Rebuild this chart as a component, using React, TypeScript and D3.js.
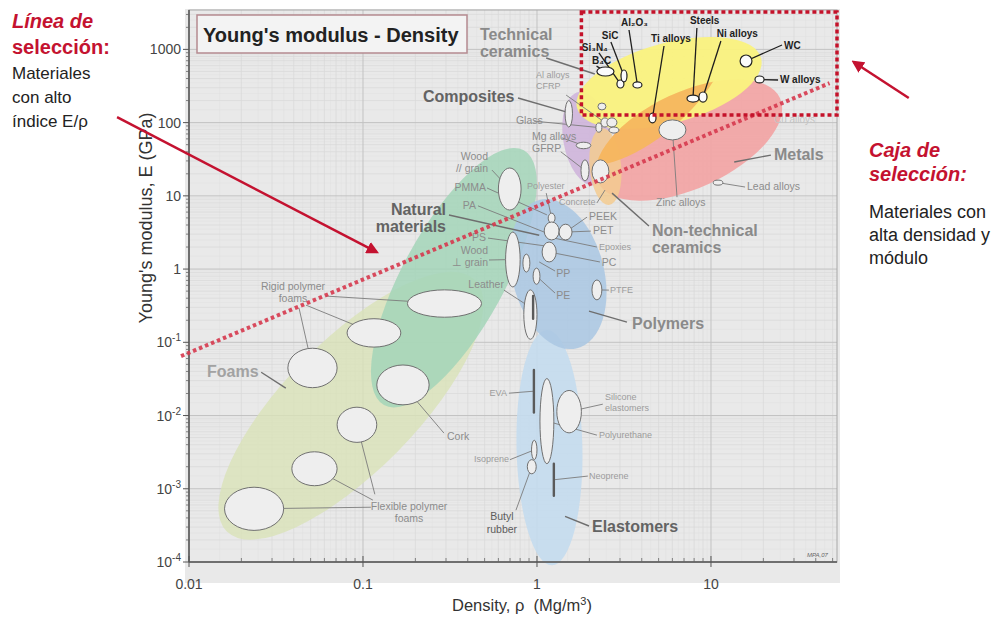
import React from 'react';
import * as d3 from 'd3';

const width = 997;
const height = 625;
const font = 'Liberation Sans, Arial, Helvetica, sans-serif';
const red = '#c41230';

// axes: density in Mg/m3, Young's modulus in GPa
const rhoDomain = [0.01, 53];
const eDomain = [1e-4, 3450];
const xTickValues = [0.01, 0.1, 1, 10];
const xTickText = ['0.01', '0.1', '1', '10'];
const yTickValues = [1e-4, 1e-3, 1e-2, 1e-1, 1, 10, 100, 1000];
const yTickText = [['10', '-4'], ['10', '-3'], ['10', '-2'], ['10', '-1'], ['1'], ['10'], ['100'], ['1000']];

// family envelopes: major axis runs from (rho[0], E[0]) to (rho[1], E[1]); spread = minor / major
const families = [
  { name: 'Foams', rho: [0.0165, 0.44], E: [2.6e-4, 0.71], spread: 0.37 },
  { name: 'Natural materials', rho: [0.132, 0.84], E: [0.0139, 42], spread: 0.35 },
  { name: 'Elastomers', rho: [1.14, 1.22], E: [0.147, 9e-5], spread: 0.28 },
  { name: 'Polymers', rho: [1.03, 1.7], E: [8.8, 0.083], spread: 0.6 },
  { name: 'Composites', rho: [1.74, 2.15], E: [262, 14], spread: 0.5 },
  { name: 'Metals', rho: [2.24, 24.9], E: [15.4, 217], spread: 0.48 },
  { name: 'Non-technical ceramics', rho: [2.36, 2.59], E: [84, 7.5], spread: 0.41 },
  { name: 'Technical ceramics', rho: [1.7, 19.4], E: [158, 763], spread: 0.42 },
];

// single materials: property ranges
const materials = [
  { name: 'rigidA', rho: [0.18, 0.48], E: [0.22, 0.52] },
  { name: 'rigidB', rho: [0.081, 0.165], E: [0.086, 0.21] },
  { name: 'rigidC', rho: [0.037, 0.071], E: [0.024, 0.083] },
  { name: 'cork', rho: [0.12, 0.24], E: [0.014, 0.049] },
  { name: 'flexA', rho: [0.071, 0.12], E: [0.0043, 0.013] },
  { name: 'flexB', rho: [0.039, 0.071], E: [0.0011, 0.0032] },
  { name: 'flexC', rho: [0.016, 0.035], E: [0.00027, 0.00105] },
  { name: 'woodPar', rho: [0.6, 0.81], E: [6.4, 24] },
  { name: 'woodPerp', rho: [0.66, 0.8], E: [0.57, 3.2] },
  { name: 'leather', rho: [0.84, 1.0], E: [0.11, 0.52] },
  { name: 'ps', rho: [0.83, 0.91], E: [0.91, 1.6] },
  { name: 'polyester', rho: [1.16, 1.27], E: [4.25, 5.8] },
  { name: 'peek', rho: [1.1, 1.34], E: [2.5, 4.4] },
  { name: 'pet', rho: [1.34, 1.59], E: [2.5, 4.1] },
  { name: 'pc', rho: [1.07, 1.29], E: [1.25, 2.34] },
  { name: 'pe', rho: [0.95, 1.04], E: [0.62, 1.03] },
  { name: 'ptfe', rho: [2.07, 2.36], E: [0.38, 0.71] },
  { name: 'polyurethane', rho: [1.04, 1.25], E: [0.0022, 0.032] },
  { name: 'silicone', rho: [1.3, 1.8], E: [0.0058, 0.022] },
  { name: 'isoprene', rho: [0.93, 1.0], E: [0.0025, 0.0046] },
  { name: 'butyl', rho: [0.88, 0.99], E: [0.0016, 0.0025] },
  { name: 'cfrp', rho: [1.45, 1.6], E: [87, 200] },
  { name: 'mg', rho: [1.68, 2.04], E: [44, 54] },
  { name: 'gfrp', rho: [1.79, 1.99], E: [16, 31] },
  { name: 'concrete', rho: [2.07, 2.59], E: [15, 31] },
  { name: 'glass', rho: [2.18, 2.36], E: [74, 99] },
  { name: 'alA', rho: [2.33, 2.59], E: [87, 116] },
  { name: 'alB', rho: [2.52, 2.88], E: [87, 116] },
  { name: 'alC', rho: [2.59, 2.96], E: [72, 87] },
  { name: 'beryl', rho: [2.24, 2.49], E: [149, 185] },
  { name: 'b4c', rho: [2.21, 2.77], E: [433, 575] },
  { name: 'si3n4', rho: [2.88, 3.16], E: [297, 382] },
  { name: 'sic', rho: [3.04, 3.29], E: [359, 523] },
  { name: 'al2o3', rho: [3.56, 4.01], E: [297, 359] },
  { name: 'ti', rho: [4.4, 4.83], E: [99, 135] },
  { name: 'zinc', rho: [5.02, 7.18], E: [58, 109] },
  { name: 'steels', rho: [7.28, 8.53], E: [191, 238] },
  { name: 'ni', rho: [8.53, 9.49], E: [191, 262] },
  { name: 'wc', rho: [14.7, 17.2], E: [575, 838] },
  { name: 'walloys', rho: [17.9, 20.2], E: [348, 433] },
  { name: 'lead', rho: [10.3, 11.7], E: [14, 16.4] },
];

// narrow property bars
const bars = [
  { name: 'eva', rho: 0.96, E: [0.011, 0.042] },
  { name: 'neoprene', rho: 1.25, E: [0.0008, 0.0022] },
  { name: 'leatherCore', rho: 0.95, E: [0.21, 0.43] },
];

// labels: anchor point in (rho, E); leaders from (rho, E) to a material or a point
const labels = [
  { text: ['Rigid polymer', 'foams'], rho: 0.0396, E: 0.516, anchor: 'middle', kind: 'small', leaders: [[0.0612, 0.428, 'rigidA'], [0.047, 0.322, 'rigidB'], [0.0429, 0.293, 'rigidC']] },
  { text: ['Foams'], rho: 0.0127, E: 0.0335, anchor: 'start', kind: 'familyLight', leaders: [[0.026, 0.039, [0.036, 0.0237]]] },
  { text: ['Cork'], rho: 0.304, E: 0.00461, anchor: 'start', kind: 'small', leaders: [[0.292, 0.00575, 'cork']] },
  { text: ['Flexible polymer', 'foams'], rho: 0.184, E: 5.1e-4, anchor: 'middle', kind: 'small', leaders: [[0.111, 5.6e-4, 'flexC'], [0.114, 7.0e-4, 'flexB'], [0.117, 8.4e-4, 'flexA']] },
  { text: ['Wood', '// grain'], rho: 0.523, E: 30.8, anchor: 'end', kind: 'small', leaders: [[0.551, 22.5, 'woodPar']] },
  { text: ['PMMA'], rho: 0.509, E: 11.6, anchor: 'end', kind: 'small', leaders: [[0.516, 12.8, [1.14, 5.5]]] },
  { text: ['PA'], rho: 0.446, E: 6.6, anchor: 'end', kind: 'small', leaders: [[0.458, 7.3, [1.1, 3.2]]] },
  { text: ['Natural', 'materials'], rho: 0.3, E: 5.47, anchor: 'end', kind: 'familyDark', leaders: [[0.312, 5.47, [1.03, 2.9]]] },
  { text: ['Polyester'], rho: 0.876, E: 12.4, anchor: 'start', kind: 'tiny', leaders: [[1.13, 10.9, 'polyester']] },
  { text: ['Concrete'], rho: 1.34, E: 7.5, anchor: 'start', kind: 'tiny', leaders: [[2.21, 8, [2.46, 12]]] },
  { text: ['PEEK'], rho: 1.99, E: 4.67, anchor: 'start', kind: 'small', leaders: [[1.94, 5.13, 'pet']] },
  { text: ['PET'], rho: 2.1, E: 3.0, anchor: 'start', kind: 'small', leaders: [[2.04, 3.3, 'pet']] },
  { text: ['Epoxies'], rho: 2.27, E: 1.82, anchor: 'start', kind: 'tiny', leaders: [[2.21, 2.0, [1.25, 2.65]]] },
  { text: ['PC'], rho: 2.36, E: 1.1, anchor: 'start', kind: 'small', leaders: [[2.3, 1.25, 'pc']] },
  { text: ['PS'], rho: 0.509, E: 2.41, anchor: 'end', kind: 'small', leaders: [[0.523, 2.65, [1.13, 2.06]]] },
  { text: ['PP'], rho: 1.29, E: 0.778, anchor: 'start', kind: 'small', leaders: [[1.27, 0.94, [1.03, 1.25]]] },
  { text: ['PE'], rho: 1.29, E: 0.389, anchor: 'start', kind: 'small', leaders: [[1.27, 0.47, 'pe']] },
  { text: ['PTFE'], rho: 2.63, E: 0.47, anchor: 'start', kind: 'tiny', leaders: [[2.59, 0.516, 'ptfe']] },
  { text: ['Polymers'], rho: 3.52, E: 0.151, anchor: 'start', kind: 'family', leaders: [[3.29, 0.189, [1.99, 0.267]]] },
  { text: ['Leather'], rho: 0.646, E: 0.55, anchor: 'end', kind: 'small', leaders: [[0.646, 0.516, [0.876, 0.322]]] },
  { text: ['Wood', '\u22a5 grain'], rho: 0.523, E: 1.6, anchor: 'end', kind: 'small', leaders: [[0.53, 1.33, 'woodPerp']] },
  { text: ['Composites'], rho: 0.221, E: 191, anchor: 'start', kind: 'familyDark', leaders: [[0.778, 217, [1.47, 140]]] },
  { text: ['Technical', 'ceramics'], rho: 0.47, E: 1344, anchor: 'start', kind: 'family', leaders: [[1.13, 763, [2.15, 461]]] },
  { text: ['Al alloys', 'CFRP'], rho: 0.987, E: 406, anchor: 'start', kind: 'tiny', leaders: [[1.47, 238, 'alA']] },
  { text: ['Glass'], rho: 0.757, E: 96, anchor: 'start', kind: 'small', leaders: [[0.96, 105, 'glass']] },
  { text: ['Mg alloys', 'GFRP'], rho: 0.936, E: 58, anchor: 'start', kind: 'small', leaders: [[1.39, 62, 'mg'], [1.37, 40, 'gfrp']] },
  { text: ['B\u2084C'], rho: 2.07, E: 632, anchor: 'start', kind: 'dark', leaders: [[2.2, 590, 'b4c']] },
  { text: ['Si\u2083N\u2084'], rho: 1.81, E: 951, anchor: 'start', kind: 'dark', leaders: [[2.27, 893, 'si3n4']] },
  { text: ['SiC'], rho: 2.36, E: 1387, anchor: 'start', kind: 'dark', leaders: [[2.66, 1262, 'sic']] },
  { text: ['Al\u2082O\u2083'], rho: 3.04, E: 2089, anchor: 'start', kind: 'dark', leaders: [[3.38, 1841, 'al2o3']] },
  { text: ['Ti alloys'], rho: 4.52, E: 1262, anchor: 'start', kind: 'dark', leaders: [[5.37, 1112, 'ti']] },
  { text: ['Steels'], rho: 7.57, E: 2222, anchor: 'start', kind: 'dark', leaders: [[8.3, 1960, 'steels']] },
  { text: ['Ni alloys'], rho: 10.8, E: 1477, anchor: 'start', kind: 'dark', leaders: [[11.4, 1303, 'ni']] },
  { text: ['WC'], rho: 26.3, E: 1012, anchor: 'start', kind: 'dark', leaders: [[25.6, 1148, 'wc']] },
  { text: ['W alloys'], rho: 24.9, E: 348, anchor: 'start', kind: 'dark', leaders: [[24.3, 382, 'walloys']] },
  { text: ['Cu alloys'], rho: 23.0, E: 99, anchor: 'start', kind: 'faint', leaders: [] },
  { text: ['Metals'], rho: 23.0, E: 30.8, anchor: 'start', kind: 'family', leaders: [[22.1, 36, [13.6, 29]]] },
  { text: ['Lead alloys'], rho: 16.1, E: 12, anchor: 'start', kind: 'small', leaders: [[15.7, 13.2, 'lead']] },
  { text: ['Zinc alloys'], rho: 4.83, E: 7.3, anchor: 'start', kind: 'small', leaders: [[6.38, 9.6, 'zinc']] },
  { text: ['Non-technical', 'ceramics'], rho: 4.58, E: 2.82, anchor: 'start', kind: 'family', leaders: [[4.4, 3.87, [2.7, 10.9]]] },
  { text: ['Silicone', 'elastomers'], rho: 2.46, E: 0.0162, anchor: 'start', kind: 'tiny', leaders: [[2.39, 0.0143, 'silicone']] },
  { text: ['Polyurethane'], rho: 2.27, E: 0.0049, anchor: 'start', kind: 'tiny', leaders: [[2.21, 0.0054, 'polyurethane']] },
  { text: ['EVA'], rho: 0.672, E: 0.0184, anchor: 'end', kind: 'tiny', leaders: [[0.69, 0.0202, 'eva']] },
  { text: ['Isoprene'], rho: 0.69, E: 0.0023, anchor: 'end', kind: 'tiny', leaders: [[0.7, 0.0025, 'isoprene']] },
  { text: ['Neoprene'], rho: 1.99, E: 0.00135, anchor: 'start', kind: 'tiny', leaders: [[1.96, 0.00149, 'neoprene']] },
  { text: ['Butyl', 'rubber'], rho: 0.629, E: 3.7e-4, anchor: 'middle', kind: 'smallDark', leaders: [[0.757, 5.1e-4, 'butyl']] },
  { text: ['Elastomers'], rho: 2.07, E: 2.55e-4, anchor: 'start', kind: 'familyDark', leaders: [[1.99, 3.1e-4, [1.45, 4.2e-4]]] },
  { text: ['MPA,07'], rho: 35.6, E: 1.16e-4, anchor: 'start', kind: 'micro', leaders: [] },
];

// selection criteria
const selectionIndex = 7.2; // E / rho, GPa per Mg/m3
const selectionRho = [0.009, 48];
const boxRho = [1.8, 53];
const boxE = [127, 3230];

const familyFill: Record<string, [string, number]> = {
  'Foams': ['#d9e2b8', 0.8],
  'Natural materials': ['#a3d5b8', 0.85],
  'Elastomers': ['#c4dbee', 0.9],
  'Polymers': ['#abc7e3', 0.88],
  'Composites': ['#cfb5dc', 0.9],
  'Metals': ['#f2a4a4', 0.92],
  'Non-technical ceramics': ['#f3cb90', 0.85],
  'Technical ceramics': ['#faf27e', 0.95],
};

const labelStyle: Record<string, { size: number; weight: number; fill: string; lh: number; style?: string }> = {
  family: { size: 16, weight: 700, fill: '#8a8a8a', lh: 17 },
  familyDark: { size: 16, weight: 700, fill: '#636363', lh: 17 },
  familyLight: { size: 16, weight: 700, fill: '#a2a2a2', lh: 17 },
  small: { size: 10.5, weight: 400, fill: '#8c8c8c', lh: 12 },
  smallDark: { size: 10.5, weight: 400, fill: '#5c5c5c', lh: 13 },
  tiny: { size: 9, weight: 400, fill: '#9c9c9c', lh: 11 },
  dark: { size: 10, weight: 700, fill: '#1e1e1e', lh: 12 },
  faint: { size: 10, weight: 400, fill: '#c4c4c4', lh: 12 },
  micro: { size: 6, weight: 400, fill: '#666', lh: 7, style: 'italic' },
};

const darkBubbles = new Set(['b4c', 'si3n4', 'sic', 'al2o3', 'ti', 'steels', 'ni', 'wc', 'walloys']);

export default function App() {
  const x = d3.scaleLog().domain(rhoDomain).range([189, 837]);
  const y = d3.scaleLog().domain(eDomain).range([562, 10]);
  const [px0, px1] = x.range();
  const [py1, py0] = y.range();

  const centerOf = (name: string): [number, number] => {
    const m = materials.find((d) => d.name === name);
    if (m) return [(x(m.rho[0]) + x(m.rho[1])) / 2, (y(m.E[0]) + y(m.E[1])) / 2];
    const b = bars.find((d) => d.name === name)!;
    return [x(b.rho), (y(b.E[0]) + y(b.E[1])) / 2];
  };

  const envelope = (f: typeof families[number]) => {
    const x0 = x(f.rho[0]), y0 = y(f.E[0]), x1 = x(f.rho[1]), y1 = y(f.E[1]);
    const cx = (x0 + x1) / 2, cy = (y0 + y1) / 2;
    const rx = Math.hypot(x1 - x0, y1 - y0) / 2;
    const angle = (Math.atan2(y1 - y0, x1 - x0) * 180) / Math.PI;
    return { cx, cy, rx, ry: rx * f.spread, transform: `rotate(${angle} ${cx} ${cy})` };
  };

  const decadesX = d3.range(-2, 2);
  const decadesY = d3.range(-4, 4);
  const minorX = decadesX.flatMap((d) => d3.range(2, 10).map((k) => k * 10 ** d)).filter((v) => v <= rhoDomain[1]);
  const minorY = decadesY.flatMap((d) => d3.range(2, 10).map((k) => k * 10 ** d)).filter((v) => v <= eDomain[1]);
  const fineX = decadesX.flatMap((d) => d3.range(1.5, 10, 1).map((k) => k * 10 ** d)).filter((v) => v <= rhoDomain[1]);
  const fineY = decadesY.flatMap((d) => d3.range(1.5, 10, 1).map((k) => k * 10 ** d)).filter((v) => v <= eDomain[1]);

  const metals = envelope(families.find((f) => f.name === 'Metals')!);
  const ceramics = envelope(families.find((f) => f.name === 'Technical ceramics')!);

  const selLine = d3.line<number>().x((r) => x(r)).y((r) => y(r * selectionIndex))(selectionRho);

  return (
    <svg width={width} height={height} style={{ position: 'absolute', left: 0, top: 0, fontFamily: font }}>
      <defs>
        <clipPath id="ceramicsClip">
          <ellipse cx={ceramics.cx} cy={ceramics.cy} rx={ceramics.rx} ry={ceramics.ry} transform={ceramics.transform} />
        </clipPath>
        <marker id="arrowHead" viewBox="0 0 10 10" refX="8" refY="5" markerWidth="5" markerHeight="5" orient="auto">
          <path d="M0,0 L10,5 L0,10 z" fill={red} />
        </marker>
      </defs>
      <rect width={width} height={height} fill="#fff" />

      {/* plot background and grid */}
      <rect x={px0 - 4} y={py0 - 1} width={px1 - px0 + 7} height={py1 - py0 + 22} fill="#e9e9e9" />
      {fineX.map((v) => <line key={'fx' + v} x1={x(v)} x2={x(v)} y1={py0} y2={py1} stroke="#e1e1e1" strokeWidth={0.5} />)}
      {fineY.map((v) => <line key={'fy' + v} y1={y(v)} y2={y(v)} x1={px0} x2={px1} stroke="#e1e1e1" strokeWidth={0.5} />)}
      {minorX.map((v) => <line key={'mx' + v} x1={x(v)} x2={x(v)} y1={py0} y2={py1} stroke="#d9d9d9" strokeWidth={0.7} />)}
      {minorY.map((v) => <line key={'my' + v} y1={y(v)} y2={y(v)} x1={px0} x2={px1} stroke="#d9d9d9" strokeWidth={0.7} />)}
      {xTickValues.map((v) => <line key={'gx' + v} x1={x(v)} x2={x(v)} y1={py0} y2={py1} stroke="#c2c2c2" strokeWidth={1} />)}
      {yTickValues.map((v) => <line key={'gy' + v} y1={y(v)} y2={y(v)} x1={px0} x2={px1} stroke="#c2c2c2" strokeWidth={1} />)}

      {/* family envelopes */}
      {families.map((f) => {
        const e = envelope(f);
        return <ellipse key={f.name} {...e} fill={familyFill[f.name][0]} opacity={familyFill[f.name][1]} />;
      })}
      <ellipse {...metals} fill="#f5b65e" clipPath="url(#ceramicsClip)" opacity={0.95} />

      {/* leader lines */}
      {labels.flatMap((l, i) =>
        l.leaders.map((ld, j) => {
          const [r, e, target] = ld as [number, number, string | number[]];
          const [tx, ty] = typeof target === 'string' ? centerOf(target) : [x(target[0]), y(target[1])];
          const dark = l.kind === 'dark';
          const fam = l.kind.startsWith('family');
          return (
            <line key={`ld${i}-${j}`} x1={x(r)} y1={y(e)} x2={tx} y2={ty}
              stroke={dark ? '#1e1e1e' : fam ? '#6e6e6e' : '#7c7c7c'} strokeWidth={dark ? 1.3 : fam ? 1.4 : 0.9} />
          );
        })
      )}

      {/* material bubbles */}
      {materials.map((m) => {
        const dark = darkBubbles.has(m.name);
        return (
          <ellipse key={m.name}
            cx={(x(m.rho[0]) + x(m.rho[1])) / 2} cy={(y(m.E[0]) + y(m.E[1])) / 2}
            rx={(x(m.rho[1]) - x(m.rho[0])) / 2} ry={(y(m.E[0]) - y(m.E[1])) / 2}
            fill={dark ? '#fbfbfb' : '#eeeeee'} stroke={dark ? '#222' : '#707070'} strokeWidth={dark ? 1.2 : 1} />
        );
      })}
      {bars.map((b) => (
        <line key={b.name} x1={x(b.rho)} x2={x(b.rho)} y1={y(b.E[0])} y2={y(b.E[1])} stroke="#5a5a5a" strokeWidth={2.4} strokeLinecap="round" />
      ))}

      {/* labels */}
      {labels.map((l, i) => {
        const s = labelStyle[l.kind];
        return (
          <text key={'lb' + i} x={x(l.rho)} y={y(l.E)} textAnchor={l.anchor} fontSize={s.size} fontWeight={s.weight}
            fill={s.fill} fontStyle={s.style}>
            {l.text.map((t, k) => (
              <tspan key={k} x={x(l.rho)} dy={k ? s.lh : 0}>{t}</tspan>
            ))}
          </text>
        );
      })}

      {/* axes */}
      <rect x={px0} y={py0} width={px1 - px0} height={py1 - py0} fill="none" stroke="#a8a8a8" strokeWidth={1} />
      <line x1={px0} x2={px0} y1={py0} y2={py1} stroke="#555" strokeWidth={1.5} />
      <line x1={px0} x2={px1} y1={py1} y2={py1} stroke="#555" strokeWidth={1.5} />
      {minorY.map((v) => <line key={'ty' + v} x1={px0 - 3} x2={px0} y1={y(v)} y2={y(v)} stroke="#666" strokeWidth={0.8} />)}
      {yTickValues.map((v) => <line key={'tyM' + v} x1={px0 - 6} x2={px0} y1={y(v)} y2={y(v)} stroke="#555" strokeWidth={1} />)}
      {minorX.map((v) => <line key={'tx' + v} x1={x(v)} x2={x(v)} y1={py1 - 4} y2={py1} stroke="#666" strokeWidth={0.8} />)}
      {xTickValues.map((v) => <line key={'txM' + v} x1={x(v)} x2={x(v)} y1={py1 - 6} y2={py1 + 5} stroke="#555" strokeWidth={1} />)}
      {yTickValues.map((v, i) => (
        <text key={'yl' + v} x={px0 - 8} y={y(v) + 5} textAnchor="end" fontSize={14} fill="#444">
          <tspan>{yTickText[i][0]}</tspan>
          {yTickText[i][1] && <tspan dy={-6} fontSize={10}>{yTickText[i][1]}</tspan>}
        </text>
      ))}
      {xTickValues.map((v, i) => (
        <text key={'xl' + v} x={x(v)} y={py1 + 27} textAnchor="middle" fontSize={14} fill="#444">{xTickText[i]}</text>
      ))}
      <text transform={`translate(${px0 - 37},${(y(eDomain[1]) + y(eDomain[0])) / 2 - 68}) rotate(-90)`} textAnchor="middle" fontSize={18} fill="#333">
        Young's modulus, E (GPa)
      </text>
      <text x={452} y={py1 + 49} fontSize={16.5} fill="#333" style={{ whiteSpace: 'pre' }}>
        {'Density, \u03c1  (Mg/m'}<tspan dy={-6} fontSize={11}>3</tspan><tspan dy={6}>)</tspan>
      </text>

      {/* selection line and box */}
      <path d={selLine ?? ''} fill="none" stroke="#d6394e" strokeWidth={4} strokeDasharray="3.5 3" opacity={0.9} />
      <rect x={x(boxRho[0])} y={y(boxE[1])} width={x(boxRho[1]) - x(boxRho[0])} height={y(boxE[0]) - y(boxE[1])}
        fill="none" stroke="#c4122a" strokeWidth={3.5} strokeDasharray="4 3" />

      {/* title */}
      <rect x={px0 + 8} y={py0 + 5} width={270} height={38} fill="#f3f3f3" stroke="#b58a90" strokeWidth={1.5} />
      <text x={px0 + 14} y={py0 + 32} fontSize={20} fontWeight={700} fill="#222">Young's modulus - Density</text>

      {/* annotations */}
      <line x1={x(0.00386)} y1={y(119)} x2={x(0.12)} y2={y(1.7)} stroke={red} strokeWidth={2.5} markerEnd="url(#arrowHead)" />
      <line x1={x(137)} y1={y(217)} x2={x(66)} y2={y(673)} stroke={red} strokeWidth={2.5} markerEnd="url(#arrowHead)" />
      <g fontSize={20} fontWeight={700} fill={red}>
        <text x={12} y={28} fontStyle="italic">Línea de</text>
        <text x={12} y={54}>selección:</text>
        <text x={869} y={157} fontStyle="italic">Caja de</text>
        <text x={869} y={181} fontStyle="italic">selección:</text>
      </g>
      <g fontSize={17} fill="#222">
        <text x={12} y={79}>Materiales</text>
        <text x={12} y={103}>con alto</text>
        <text x={12} y={127}>índice E/ρ</text>
      </g>
      <g fontSize={18} fill="#222">
        <text x={869} y={218}>Materiales con</text>
        <text x={869} y={241}>alta densidad y</text>
        <text x={869} y={264}>módulo</text>
      </g>
    </svg>
  );
}
